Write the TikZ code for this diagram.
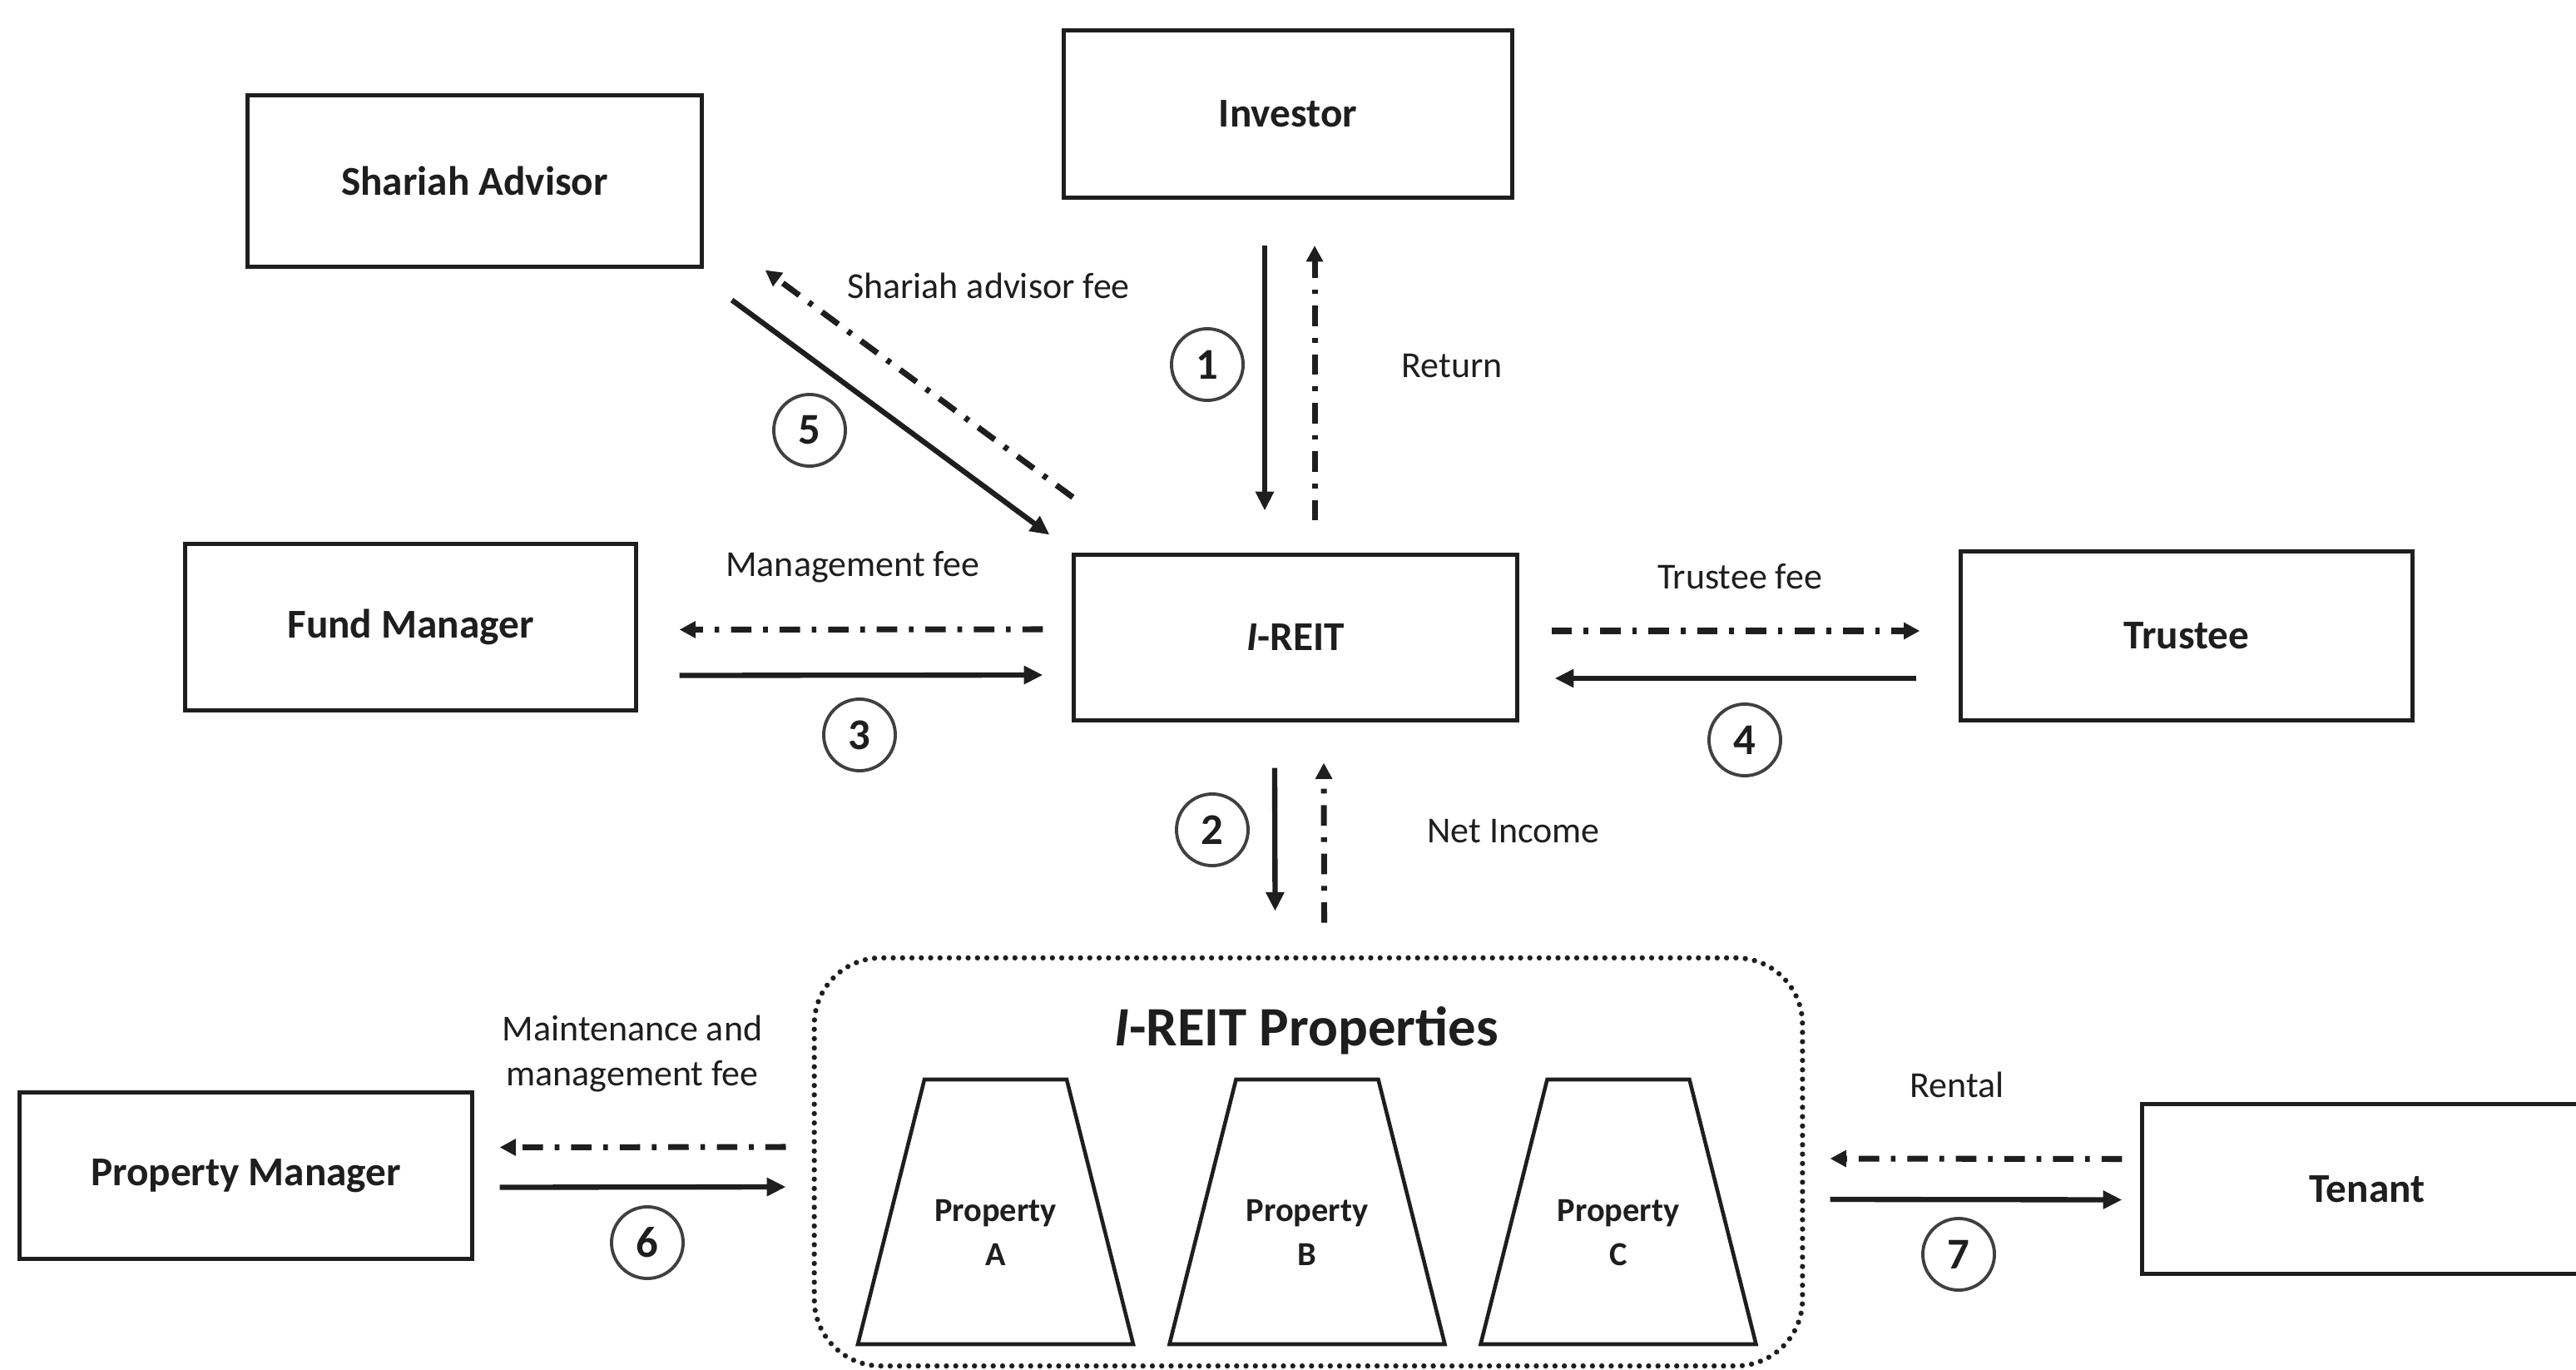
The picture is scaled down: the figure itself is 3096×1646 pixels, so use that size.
\documentclass[tikz,border=0pt]{standalone}
\usepackage{fontspec}
\setmainfont{Carlito}
\usetikzlibrary{calc,arrows.meta}
\definecolor{ink}{HTML}{1E1E1E}
\begin{document}
\begin{tikzpicture}[x=0.01cm,y=-0.01cm,
  box/.style={draw=ink,line width=1.4pt,font=\fontsize{14}{16}\selectfont\bfseries,text=ink,inner sep=0pt},
  elabel/.style={font=\fontsize{12.5}{15.6}\selectfont,text=ink,align=center},
  num/.style={circle,draw=ink!85,line width=1.1pt,minimum size=0.86cm,inner sep=0pt,font=\fontsize{15}{17}\selectfont\bfseries,text=ink},
  solidarr/.style={draw=ink,line width=1.8pt,-{Triangle[length=6.5pt,width=6pt]}},
  dasharr/.style={draw=ink,line width=2pt,dash pattern=on 7pt off 4pt on 1.6pt off 4pt,-{Triangle[length=5.5pt,width=5.5pt]}},
  proplabel/.style={font=\fontsize{11.5}{15}\selectfont\bfseries,text=ink,align=center},
  trap/.style={draw=ink,line width=1.3pt}
]
\useasboundingbox (0,0) rectangle (3096,1646);
\fill[white] (0,0) rectangle (3096,1646);
\clip (0,0) rectangle (3096,1646);

% boxes
\node[box,minimum width=5.38cm,minimum height=2.01cm] (inv) at (1548,137) {Investor};
\node[box,minimum width=5.45cm,minimum height=2.05cm] (sha) at (570.5,217.5) {Shariah Advisor};
\node[box,minimum width=5.41cm,minimum height=1.99cm] (fm) at (493.5,753.5) {Fund Manager};
\node[box,minimum width=5.32cm,minimum height=1.98cm] (reit) at (1557,766) {\textit{I}-REIT};
\node[box,minimum width=5.42cm,minimum height=2.02cm] (tru) at (2628,764) {Trustee};
\node[box,minimum width=5.43cm,minimum height=1.99cm] (pm) at (295.5,1412.5) {Property Manager};
\node[box,minimum width=5.4cm,minimum height=2.03cm] (ten) at (2845,1428.5) {Tenant};
\node[draw=ink,line width=1.8pt,dash pattern=on 0pt off 3.2pt,line cap=round,rounded corners=0.8cm,minimum width=11.87cm,minimum height=4.9cm] (props) at (1572.5,1396) {};

% properties
\node[font=\fontsize{19}{22}\selectfont\bfseries,text=ink] (ptitle) at (1570,1238) {\textit{I}-REIT Properties};
\foreach \n/\cx in {A/1196.5, B/1571, C/1945} {
  \draw[trap] (\cx-165.5,1615) -- (\cx-85.5,1297) -- (\cx+85.5,1297) -- (\cx+165.5,1615) -- cycle;
  \node[proplabel] (prop\n) at (\cx,1481) {Property\\\n};
}

% 1 Investor <-> I-REIT
\draw[solidarr] ($(inv.south)+(-28,55)$) -- ($(reit.north)+(-37,-51)$);
\draw[dasharr] ($(reit.north)+(23,-39)$) -- ($(inv.south)+(32,55)$);
\node[num] (n1) at (1451,438) {1};
\node[elabel] (lret) at (1745,440) {Return};

% 2 I-REIT <-> Properties
\draw[solidarr] ($(reit.south)+(-25,55)$) -- ($(props.north)+(-40,-53)$);
\draw[dasharr] ($(props.north)+(19,-39)$) -- ($(reit.south)+(34,49)$);
\node[num] (n2) at (1457,997) {2};
\node[elabel] (lnet) at (1819,999) {Net Income};

% 3 Fund manager
\draw[dasharr] ($(reit.west)+(-35,-10)$) -- ($(fm.east)+(50,3)$);
\draw[solidarr] ($(fm.east)+(50,58)$) -- ($(reit.west)+(-35,45)$);
\node[elabel] (lmf) at (1025,681) {Management fee};
\node[num] (n3) at (1033,883) {3};

% 4 Trustee
\draw[dasharr] ($(reit.east)+(39,-8)$) -- ($(tru.west)+(-47,-6)$);
\draw[solidarr] ($(tru.west)+(-51,51)$) -- ($(reit.east)+(43,49)$);
\node[elabel] (ltf) at (2091,693) {Trustee fee};
\node[num] (n4) at (2097,889) {4};

% 5 Shariah advisor
\draw[solidarr] ($(sha.south east)+(34,38)$) -- ($(reit.north west)+(-27,-22)$);
\draw[dasharr] ($(reit.north west)+(1,-67)$) -- ($(sha.south east)+(74,2)$);
\node[elabel] (lsaf) at (1188,343) {Shariah advisor fee};
\node[num] (n5) at (973,517) {5};

% 6 Property manager
\draw[dasharr] ($(props.west)+(-31,-18)$) -- ($(pm.east)+(31,-34)$);
\draw[solidarr] ($(pm.east)+(31,14)$) -- ($(props.west)+(-31,30)$);
\node[elabel] (lmm) at (760,1266) {Maintenance and\\management fee};
\node[num] (n6) at (778,1493) {6};

% 7 Tenant
\draw[dasharr] ($(ten.west)+(-22,-36)$) -- ($(props.east)+(30,-4)$);
\draw[solidarr] ($(props.east)+(30,45)$) -- ($(ten.west)+(-22,13)$);
\node[elabel] (lren) at (2352,1303) {Rental};
\node[num] (n7) at (2354,1507) {7};
\end{tikzpicture}
\end{document}
